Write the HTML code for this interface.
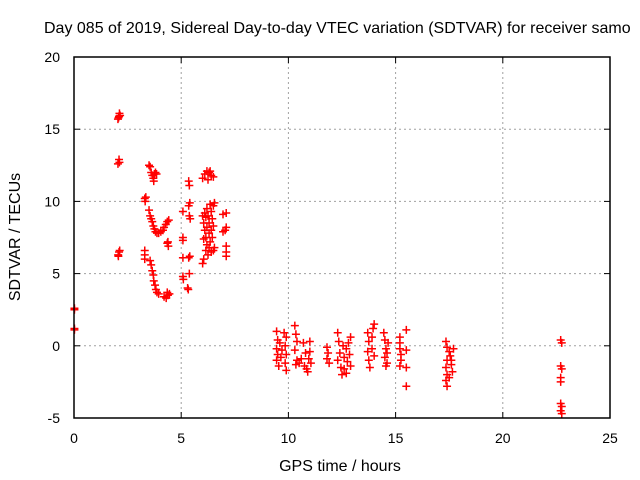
<!DOCTYPE html>
<html><head><meta charset="utf-8"><style>
html,body{margin:0;padding:0;background:#fff;}
svg{display:block;font-family:"Liberation Sans",sans-serif;}
</style></head><body>
<svg id="chart" width="640" height="480" viewBox="0 0 640 480" xmlns="http://www.w3.org/2000/svg">
<rect x="0" y="0" width="640" height="480" fill="#fff"/>
<text x="44" y="33" font-size="16" fill="#000">Day 085 of 2019, Sidereal Day-to-day VTEC variation (SDTVAR) for receiver samo</text>
<g id="grid"></g>
<g id="ticks"></g>
<g id="marks"></g>
<rect x="74" y="57" width="536" height="361" fill="none" stroke="#000" stroke-width="1.5"/>
<text transform="translate(20,237) rotate(-90)" text-anchor="middle" font-size="16">SDTVAR / TECUs</text>
<text x="340" y="471" text-anchor="middle" font-size="16">GPS time / hours</text>
</svg>
<script>
const xTicks=[0,5,10,15,20,25];
const yTicks=[-5,0,5,10,15,20];
const hours=[0.02,0.02,0.02,0.02,
2.05,2.1,2.12,2.08,2.15,2.05,2.1,2.12,2.07,2.1,2.13,2.06,
3.3,3.32,3.35,3.3,3.3,3.3,
3.5,3.55,3.6,3.65,3.7,3.75,3.8,3.72,3.85,
3.5,3.55,3.6,3.65,3.7,3.75,3.8,3.87,3.95,4.05,4.15,4.2,4.28,4.35,4.42,4.35,4.4,4.38,
3.55,3.6,3.65,3.7,3.72,3.78,3.82,3.87,3.95,4.2,4.3,4.38,4.45,4.35,
5.35,5.38,5.08,5.35,5.4,5.38,5.42,5.08,5.08,5.08,5.35,5.4,5.08,5.1,5.38,5.3,5.33,
6.0,6.1,6.2,6.3,6.4,6.5,6.25,6.35,
6.0,6.05,6.1,6.15,6.2,6.25,6.3,6.35,6.4,6.45,6.5,6.55,6.1,6.2,6.3,6.4,6.05,6.2,6.3,6.4,6.5,6.55,6.25,6.15,6.0,6.05,6.45,6.35,6.5,6.15,
6.95,7.1,7.1,7.05,6.95,7.1,7.1,7.1,
9.45,9.5,9.45,9.5,9.45,9.55,9.6,9.65,9.7,9.8,9.85,9.9,9.9,9.85,9.9,
10.3,10.35,10.4,10.3,10.4,10.35,10.5,10.6,10.7,10.8,10.85,10.9,11.0,11.0,11.05,10.95,10.75,
11.8,11.85,11.8,11.9,
12.3,12.35,12.4,12.3,12.45,12.5,12.6,12.6,12.7,12.75,12.8,12.85,12.9,12.9,12.55,12.7,
13.7,13.75,13.7,13.75,13.8,13.9,13.95,14.0,14.0,13.9,
14.45,14.5,14.55,14.5,14.6,14.55,14.65,14.6,
15.2,15.2,15.2,15.25,15.2,15.25,15.5,15.5,15.5,15.5,
17.35,17.4,17.5,17.4,17.35,17.4,17.35,17.4,17.55,17.6,17.65,17.7,17.5,17.6,
22.7,22.75,22.7,22.75,22.7,22.7,22.7,22.75,22.7,22.75];
const sdtvar=[2.6,2.5,1.2,1.1,
15.7,15.9,16.1,15.8,15.95,12.6,12.9,12.7,6.2,6.5,6.6,6.3,
10.2,10.0,10.3,6.6,6.3,6.0,
12.5,12.4,12.0,11.8,11.6,11.9,12.0,11.4,11.9,
9.4,9.0,8.8,8.6,8.3,8.1,7.9,7.8,7.8,7.9,8.0,8.2,8.4,8.6,8.7,7.1,6.9,7.2,
5.9,5.6,5.2,4.9,4.5,4.2,3.9,3.7,3.6,3.4,3.3,3.5,3.6,3.7,
11.4,11.1,9.3,9.7,9.9,9.0,8.8,7.5,7.3,6.1,6.1,6.2,4.8,4.6,5.0,4.0,3.9,
11.6,11.9,12.1,12.0,11.8,11.7,11.5,12.1,
9.0,8.5,8.0,7.5,9.5,9.0,8.5,9.8,9.3,8.8,9.7,9.9,9.2,8.2,7.8,8.0,7.4,7.0,6.8,6.5,6.6,6.8,6.3,6.6,5.7,6.0,7.5,7.2,8.3,8.9,
9.1,9.2,8.2,8.0,7.9,6.9,6.5,6.2,
1.0,0.4,-0.2,-0.6,-1.0,-1.4,0.2,-0.8,-0.3,0.9,-1.2,-1.7,0.6,0.0,-0.6,
1.4,0.8,0.3,-0.3,-1.0,-1.3,-1.2,-0.9,0.2,-0.5,-1.6,-1.8,0.3,-0.4,-1.2,-0.9,-1.4,
-0.1,-0.5,-0.9,-1.2,
0.9,0.3,-0.5,-1.0,-1.5,-2.0,-0.8,-1.6,-0.2,-1.1,0.2,-0.6,0.6,-1.4,0.0,-1.9,
0.9,0.3,-0.4,-1.0,-1.5,-0.2,1.2,1.5,-0.7,0.6,
0.9,0.4,-0.2,-0.8,-1.2,-1.4,0.2,-0.5,
0.6,0.2,-0.2,-0.6,-1.4,-1.0,1.1,-0.3,-1.5,-2.8,
0.3,-0.1,-0.4,-1.0,-1.5,-2.0,-2.4,-2.8,-0.7,-1.3,-1.8,-0.2,-2.2,-1.0,
0.4,0.2,-1.4,-1.6,-2.2,-2.5,-4.0,-4.2,-4.5,-4.7];

const NS="http://www.w3.org/2000/svg";
const X0=74,X1=610,Y0=57,Y1=418;
function xs(v){return X0+(v-0)/(25-0)*(X1-X0);}
function ys(v){return Y1-(v+5)/(20+5)*(Y1-Y0);}
function mk(tag,attrs,parent){const e=document.createElementNS(NS,tag);for(const k in attrs)e.setAttribute(k,attrs[k]);parent.appendChild(e);return e;}
const grid=document.getElementById('grid'),ticks=document.getElementById('ticks'),marks=document.getElementById('marks');
xTicks.forEach(t=>{
  const x=xs(t);
  if(t>0&&t<25){
    const g=mk('line',{x1:x,x2:x,y1:Y0,y2:Y1,stroke:'#a0a0a0','stroke-dasharray':'2,3'},grid);
    
    
  }
  const a=mk('line',{x1:x,x2:x,y1:Y1,y2:Y1-6,stroke:'#000'},ticks);
  
  
  const b=mk('line',{x1:x,x2:x,y1:Y0,y2:Y0+6,stroke:'#000'},ticks);
  
  
  const l=mk('text',{x:x,y:443,'text-anchor':'middle','font-size':'14'},ticks);
  l.textContent=t;
  
  
});
yTicks.forEach(t=>{
  const y=ys(t);
  if(t>-5&&t<20){
    const g=mk('line',{x1:X0,x2:X1,y1:y,y2:y,stroke:'#a0a0a0','stroke-dasharray':'2,3'},grid);
    
    
  }
  const a=mk('line',{x1:X0,x2:X0+6,y1:y,y2:y,stroke:'#000'},ticks);
  
  
  const b=mk('line',{x1:X1,x2:X1-6,y1:y,y2:y,stroke:'#000'},ticks);
  
  
  const l=mk('text',{x:X0-14,y:y+5,'text-anchor':'end','font-size':'14'},ticks);
  l.textContent=t;
  
  
});
hours.forEach((h,i)=>{
  const x=xs(h),y=ys(sdtvar[i]);
  const p=mk('path',{d:`M${x-4},${y}H${x+4}M${x},${y-4}V${y+4}`,stroke:'#ff0000','stroke-width':'1.5',fill:'none'},marks);
  
  
});
</script>
</body></html>
